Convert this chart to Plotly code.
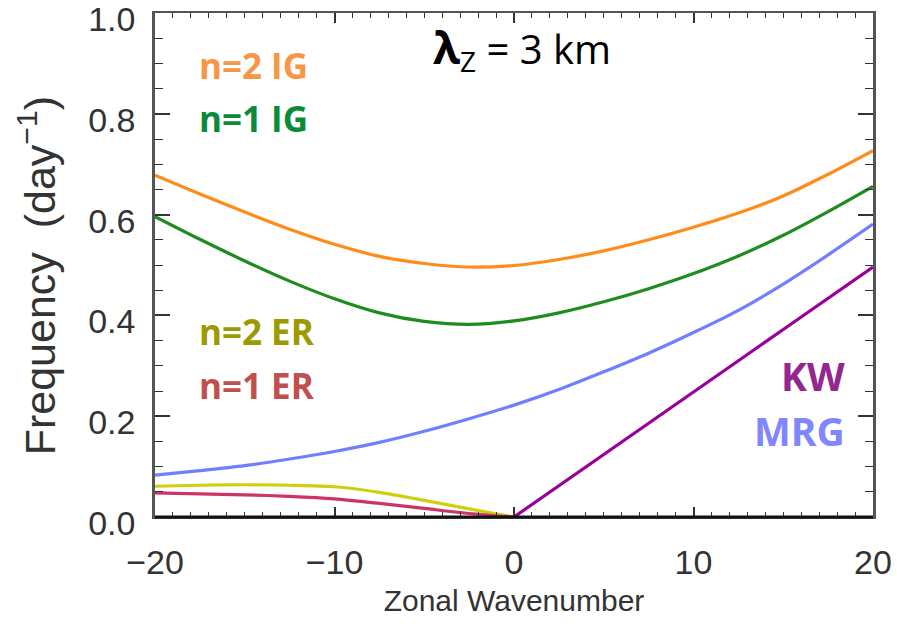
import plotly.graph_objects as go

# Zonal wavenumber grid (every 2.5)
k_grid = [-20, -17.5, -15, -12.5, -10, -7.5, -5, -2.5, 0, 2.5, 5, 7.5, 10, 12.5, 15, 17.5, 20]

ig2 = [0.678, 0.641, 0.605, 0.571, 0.541, 0.517, 0.503, 0.496, 0.499, 0.511, 0.528, 0.550, 0.575, 0.603, 0.637, 0.680, 0.727]
ig1 = [0.596, 0.551, 0.508, 0.468, 0.433, 0.405, 0.388, 0.382, 0.389, 0.405, 0.427, 0.453, 0.483, 0.518, 0.559, 0.606, 0.656]
mrg = [0.083, 0.092, 0.102, 0.115, 0.130, 0.148, 0.170, 0.195, 0.222, 0.253, 0.288, 0.325, 0.366, 0.410, 0.462, 0.520, 0.581]

k_kw = [0, 5, 10, 15, 20]
kw = [0.0, 0.124, 0.248, 0.372, 0.496]

k_er = [-20, -17.5, -15, -12.5, -10, -7.5, -5, -2.5, 0]
er2 = [0.061, 0.063, 0.064, 0.063, 0.060, 0.049, 0.033, 0.016, 0.0]
er1 = [0.048, 0.046, 0.044, 0.041, 0.036, 0.027, 0.017, 0.007, 0.0]

x_ticks = [-20, -10, 0, 10, 20]
x_tick_labels = ["\u221220", "\u221210", "0", "10", "20"]
y_ticks = [0.0, 0.2, 0.4, 0.6, 0.8, 1.0]
y_tick_labels = ["0.0", "0.2", "0.4", "0.6", "0.8", "1.0"]

fig = go.Figure()

def add_line(x, y, color):
    fig.add_trace(go.Scatter(x=x, y=y, mode="lines",
                             line=dict(color=color, width=3.2, shape="spline", smoothing=0.8),
                             showlegend=False, hoverinfo="skip"))

add_line(k_er, er2, "#CFCF10")
add_line(k_er, er1, "#CC3366")
add_line(k_grid, mrg, "#6F7FFF")
add_line(k_kw, kw, "#990099")
add_line(k_grid, ig1, "#1E8C1E")
add_line(k_grid, ig2, "#FF8C1A")

axis_family = "Liberation Sans, Arial, sans-serif"
tick_font = dict(family=axis_family, size=34, color="#333")
lab_font = "Open Sans, sans-serif"

fig.update_xaxes(
    range=[-20, 20], tickmode="array", tickvals=x_ticks, ticktext=x_tick_labels,
    ticks="inside", ticklen=10, tickwidth=1.5, tickcolor="#333",
    minor=dict(dtick=1, ticks="inside", ticklen=5, tickwidth=1, tickcolor="#333"),
    showline=True, linecolor="#555", linewidth=2, mirror="ticks",
    showgrid=False, zeroline=False, tickfont=tick_font, ticklabelstandoff=14,
    automargin=False, ticklabeloverflow="allow",
    title=dict(text="Zonal Wavenumber", font=dict(family=axis_family, size=30, color="#333"), standoff=10),
)
fig.update_yaxes(
    range=[0, 1.0], tickmode="array", tickvals=y_ticks, ticktext=y_tick_labels,
    ticks="inside", ticklen=15, tickwidth=1.5, tickcolor="#333",
    minor=dict(dtick=0.05, ticks="inside", ticklen=8, tickwidth=1, tickcolor="#333"),
    showline=True, linecolor="#555", linewidth=2.5, mirror="ticks",
    showgrid=False, zeroline=False, tickfont=tick_font, ticklabelstandoff=10,
    ticklabelshift=6, automargin=False, ticklabeloverflow="allow",
)

# y-axis title
fig.add_annotation(x=-0.164, y=0.478, xref="paper", yref="paper",
                   text="Frequency  (day<sup>\u22121</sup>)", textangle=-90, showarrow=False,
                   xanchor="center", yanchor="middle",
                   font=dict(family=axis_family, size=43, color="#333"))

# bottom axis darker line
fig.add_shape(type="line", xref="paper", yref="paper", x0=0, x1=1, y0=0, y1=0,
              line=dict(color="#111", width=3))

labels = [
    ("<b>n=2 IG</b>", -17.66, 0.896, "#F79646", "left", 35),
    ("<b>n=1 IG</b>", -17.66, 0.791, "#0A8A3A", "left", 35),
    ("<b>n=2 ER</b>", -17.66, 0.369, "#9C9A00", "left", 35),
    ("<b>n=1 ER</b>", -17.66, 0.260, "#C0504D", "left", 35),
    ("<b>KW</b>", 18.55, 0.281, "#93278F", "right", 39),
    ("<b>MRG</b>", 18.55, 0.172, "#7F86FF", "right", 39),
]
for text, x, y, c, anchor, sz in labels:
    fig.add_annotation(x=x, y=y, xref="x", yref="y", text=text, showarrow=False,
                       xanchor=anchor, yanchor="middle",
                       font=dict(family=lab_font, size=sz, color=c))

fig.add_annotation(x=-4.65, y=0.93, xref="x", yref="y",
                   text="<b><span style='font-size:44px'>\u03bb</span></b><sub>Z</sub> = 3 km",
                   showarrow=False, xanchor="left", yanchor="middle",
                   font=dict(family=lab_font, size=40, color="#000"))

fig.update_layout(
    width=897, height=624, plot_bgcolor="white", paper_bgcolor="white",
    margin=dict(l=155, r=24, t=13, b=107),
)

fig.write_html("out.html")
